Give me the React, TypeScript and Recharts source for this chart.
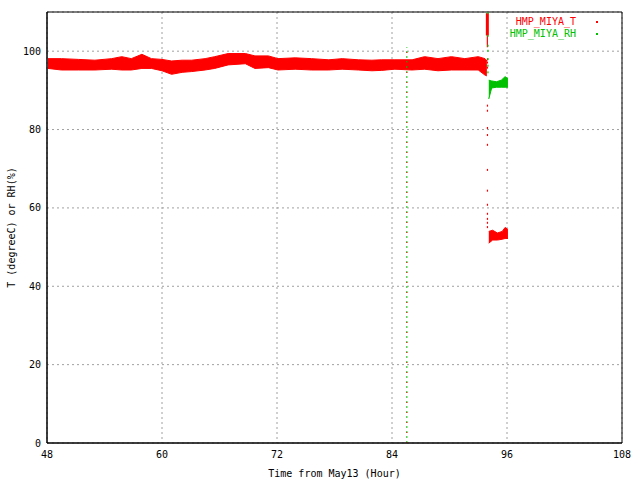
import React from "react";
import { ComposedChart, Area, Line, Scatter, XAxis, YAxis, CartesianGrid, ReferenceArea } from "recharts";

const xTicks = [48, 60, 72, 84, 96, 108];
const yTicks = [0, 20, 40, 60, 80, 100];

// HMP_MIYA_T: envelope of the noisy trace (hour, min, max)
const tHours = [
  48.1, 49.5, 51.3, 53.0, 54.75, 55.8, 56.8, 57.9, 58.9, 60.0, 61.0, 62.1, 63.1, 64.5, 65.5, 66.9, 68.7, 69.7,
  71.1, 72.1, 73.9, 75.6, 77.4, 78.8, 80.5, 81.9, 82.9, 84.3, 86.1, 87.4, 88.8, 90.2, 91.6, 93.0, 93.7, 93.9,
];
const tLow = [
  95.6, 95.2, 95.2, 95.2, 95.4, 95.2, 95.2, 95.6, 95.6, 95.0, 94.1, 94.6, 94.8, 95.2, 95.6, 96.5, 96.8, 95.6,
  95.8, 95.2, 95.4, 95.2, 95.2, 95.4, 95.2, 95.0, 95.1, 95.4, 95.2, 95.4, 95.0, 95.2, 95.2, 95.2, 93.9, 93.7,
];
const tHigh = [
  98.1, 98.1, 97.9, 97.7, 98.1, 98.6, 98.1, 99.2, 98.1, 97.9, 97.5, 97.7, 97.7, 98.1, 98.6, 99.4, 99.4, 98.8,
  98.8, 98.1, 98.3, 98.1, 97.8, 98.1, 97.8, 97.7, 97.8, 97.8, 97.8, 98.6, 98.1, 98.6, 98.1, 98.6, 98.1, 97.5,
];

// after the jump at ~94h
const tLateHours = [94.1, 94.5, 95.0, 95.5, 95.8, 96.1];
const tLateLow = [51.0, 51.8, 51.8, 52.0, 52.2, 52.2];
const tLateHigh = [54.0, 54.3, 53.6, 54.0, 55.0, 54.5];

const rhHours = [94.1, 94.4, 94.9, 95.4, 95.8, 96.1];
const rhLow = [87.8, 90.6, 90.8, 90.8, 90.8, 90.8];
const rhHigh = [92.6, 92.4, 92.2, 92.6, 93.5, 93.0];

// spike and scattered samples around the jump
const tSpikeHour = 93.95;
const tSpikeTop = [104.0, 109.7];
const tSpikeLow = [101.0, 104.0];
const tDotValues = [97.9, 97.1, 95.8, 86.1, 84.8, 80.4, 78.6, 76.1, 69.7, 64.4, 60.8, 58.5, 57.2, 56.2, 55.1];
const rhDotHour = 94.0;
const rhDotValues = [109.7, 103.9, 101.4, 100.1, 98.0, 96.3, 94.6];

// glitch column at ~85.5h
const glitchHour = 85.55;
const glitchValues = [0, 101];

const series = [
  { name: "HMP_MIYA_T", color: "#ff0000" },
  { name: "HMP_MIYA_RH", color: "#00c000" },
];

const font = "'DejaVu Sans Mono', monospace";
const textStyle = { fill: "#000", fontSize: 10, fontFamily: font };

const tBand = tHours.map((t, i) => ({ t, lo: tLow[i], hi: tHigh[i] }));
const tLateBand = tLateHours.map((t, i) => ({ t, lo: tLateLow[i], hi: tLateHigh[i] }));
const rhBand = rhHours.map((t, i) => ({ t, lo: rhLow[i], hi: rhHigh[i] }));
const spikeTop = tSpikeTop.map((v) => ({ t: tSpikeHour, v }));
const spikeLow = tSpikeLow.map((v) => ({ t: tSpikeHour, v }));
const tDots = tDotValues.map((v) => ({ t: tSpikeHour, v }));
const rhDots = rhDotValues.map((v) => ({ t: rhDotHour, v }));
const glitch = glitchValues.map((v) => ({ t: glitchHour, v }));

const range = (d: { lo: number; hi: number }) => [d.lo, d.hi];

const dot = (color: string) => (p: any) => (
  <rect x={p.cx - 0.5} y={p.cy - 1} width={1.2} height={2} fill={color} />
);

const noLabel = () => <g />;

export default function App() {
  return (
    <div style={{ position: "absolute", left: 0, top: 0, width: 640, height: 480, background: "#fff", fontFamily: font }}>
      <ComposedChart width={640} height={480} margin={{ top: 12, right: 18, bottom: 1, left: 0 }}>
        <CartesianGrid stroke="#a0a0a0" strokeDasharray="2 3" />
        <XAxis
          dataKey="t"
          type="number"
          domain={[48, 108]}
          ticks={xTicks}
          height={36}
          stroke="#000"
          tickLine={false}
          tickSize={6}
          tickMargin={2}
          tick={textStyle}
          label={{ value: "Time from May13 (Hour)", position: "insideBottom", offset: 2, ...textStyle }}
        />
        <YAxis
          type="number"
          domain={[0, 110]}
          ticks={yTicks}
          width={47}
          stroke="#000"
          tickLine={false}
          tickSize={6}
          tickMargin={0}
          tick={textStyle}
          label={{
            value: "T (degreeC) or RH(%)",
            angle: -90,
            position: "insideLeft",
            offset: 11,
            ...textStyle,
            style: { textAnchor: "middle" },
          }}
        />
        {/* inward tick marks on all four sides */}
        <XAxis xAxisId="bt" type="number" domain={[48, 108]} ticks={xTicks} orientation="bottom" mirror height={1} axisLine={false} tick={noLabel} tickLine={{ stroke: "#000" }} tickSize={6} />
        <XAxis xAxisId="tp" type="number" domain={[48, 108]} ticks={xTicks} orientation="top" mirror height={1} axisLine={false} tick={noLabel} tickLine={{ stroke: "#000" }} tickSize={6} />
        <YAxis yAxisId="lf" type="number" domain={[0, 110]} ticks={yTicks} orientation="left" mirror width={1} axisLine={false} tick={noLabel} tickLine={{ stroke: "#000" }} tickSize={6} />
        <YAxis yAxisId="rt" type="number" domain={[0, 110]} ticks={yTicks} orientation="right" mirror width={1} axisLine={false} tick={noLabel} tickLine={{ stroke: "#000" }} tickSize={6} />
        <ReferenceArea x1={48} x2={108} y1={0} y2={110} fill="none" stroke="#000" strokeWidth={1} />
        <Line data={glitch} dataKey="v" stroke={series[1].color} strokeWidth={1} strokeDasharray="2 3" dot={false} isAnimationActive={false} />
        <Line data={glitch} dataKey="v" stroke={series[0].color} strokeWidth={1} strokeDasharray="1 9" dot={false} isAnimationActive={false} />
        <Area data={tBand} dataKey={range} type="linear" stroke={series[0].color} fill={series[0].color} fillOpacity={1} strokeWidth={1} isAnimationActive={false} />
        <Area data={tLateBand} dataKey={range} type="linear" stroke={series[0].color} fill={series[0].color} fillOpacity={1} strokeWidth={1} isAnimationActive={false} />
        <Area data={rhBand} dataKey={range} type="linear" stroke={series[1].color} fill={series[1].color} fillOpacity={1} strokeWidth={1} isAnimationActive={false} />
        <Line data={spikeTop} dataKey="v" stroke={series[0].color} strokeWidth={3} dot={false} isAnimationActive={false} />
        <Line data={spikeLow} dataKey="v" stroke={series[0].color} strokeWidth={1.2} dot={false} isAnimationActive={false} />
        <Scatter data={tDots} dataKey="v" shape={dot(series[0].color)} isAnimationActive={false} />
        <Scatter data={rhDots} dataKey="v" shape={dot(series[1].color)} isAnimationActive={false} />
      </ComposedChart>
      <div style={{ position: "absolute", top: 16, right: 42, fontSize: 10, lineHeight: "12px" }}>
        {series.map((s) => (
          <div key={s.name} style={{ display: "flex", alignItems: "center", justifyContent: "flex-end" }}>
            <span style={{ color: s.color, textAlign: "right" }}>{s.name}</span>
            <span style={{ display: "inline-block", width: 2, height: 2, background: s.color, marginLeft: 20 }} />
          </div>
        ))}
      </div>
    </div>
  );
}
